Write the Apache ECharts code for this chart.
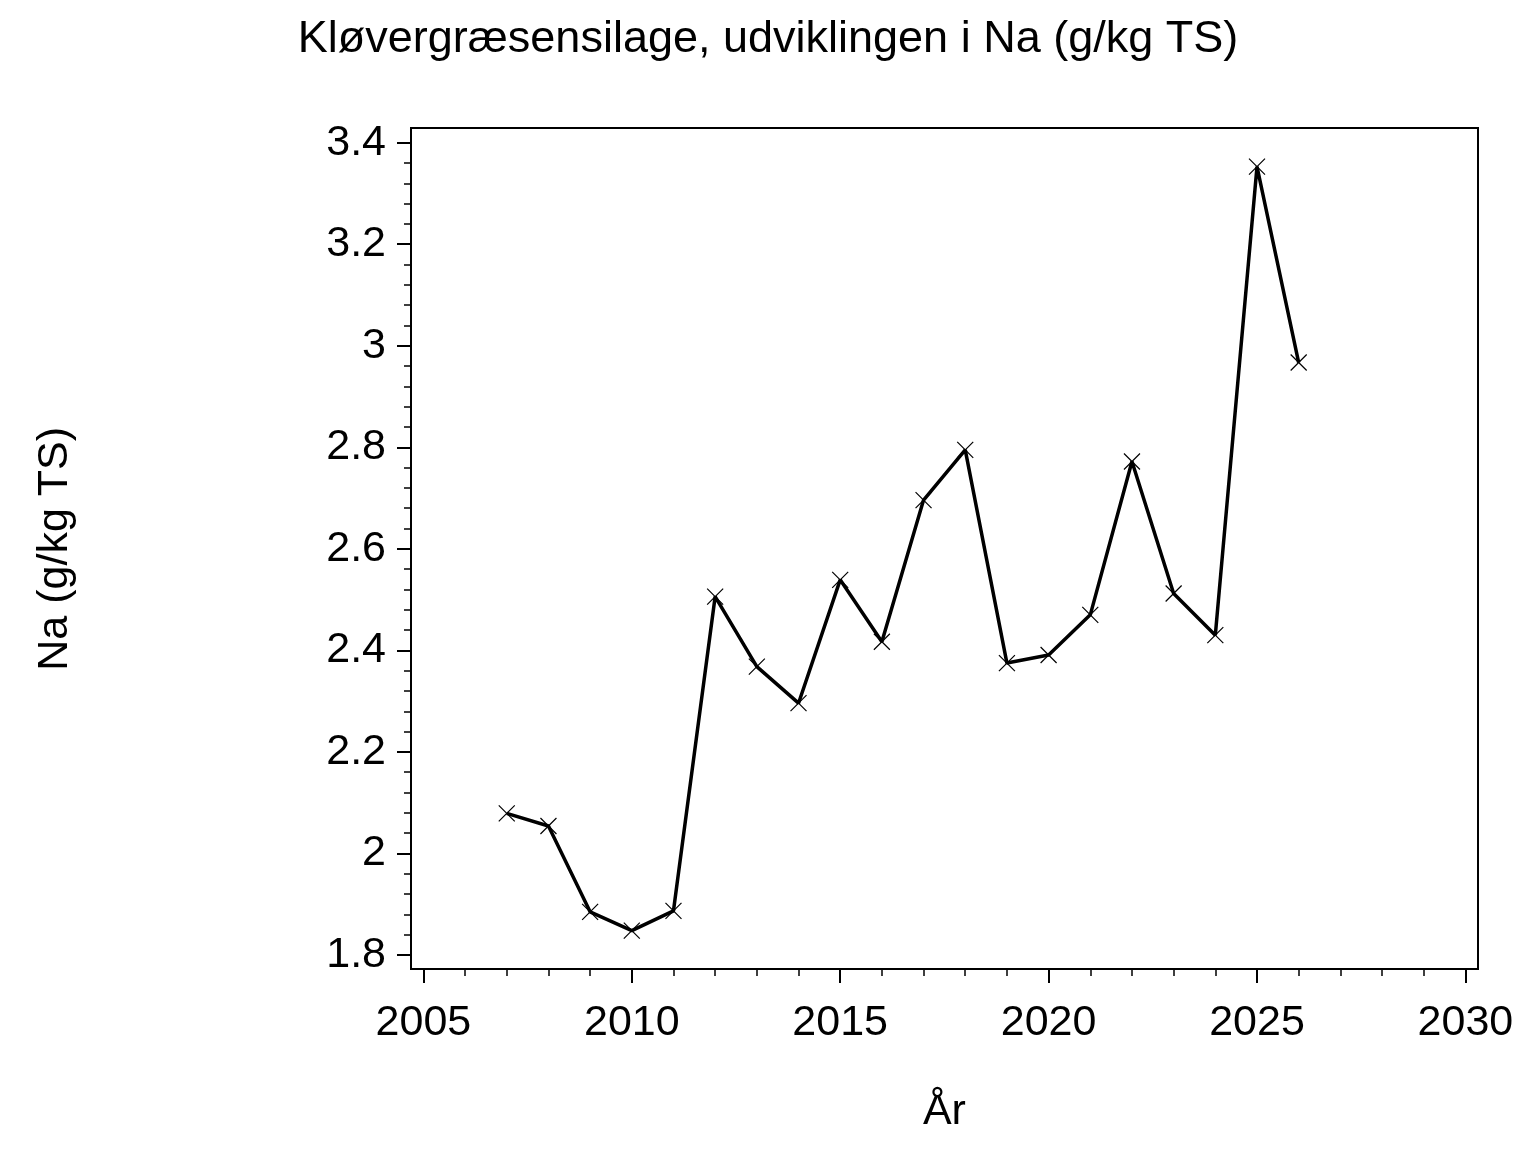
<!DOCTYPE html>
<html>
<head>
<meta charset="utf-8">
<title>Kløvergræsensilage, Na</title>
<script src="https://cdn.jsdelivr.net/npm/echarts@6/dist/echarts.min.js"></script>
<style>
  html, body { margin: 0; padding: 0; background: #fff; }
  #chart { width: 1536px; height: 1152px; }
</style>
</head>
<body>
<div id="chart"></div>
<script>
// aar og Na (g/kg TS), aflaest fra figuren
var years = [2007, 2008, 2009, 2010, 2011, 2012, 2013, 2014, 2015, 2016,
             2017, 2018, 2019, 2020, 2021, 2022, 2023, 2024, 2025, 2026];
var naValues = [2.079, 2.054, 1.885, 1.848, 1.887, 2.506, 2.368, 2.296, 2.539, 2.417,
                2.696, 2.795, 2.375, 2.391, 2.470, 2.772, 2.512, 2.430, 3.353, 2.967];
var xTicks = [2005, 2030, 5];   // min, max, interval
var yTicks = [1.8, 3.4, 0.2];

var font = '"Liberation Sans", Arial, sans-serif';
var chart = echarts.init(document.getElementById('chart'));

var points = years.map(function (y, i) { return [y, naValues[i]]; });

chart.setOption({
    backgroundColor: '#fff',
    animation: false,
    title: {
        text: 'Kløvergræsensilage, udviklingen i Na (g/kg TS)',
        left: 'center',
        top: 12,
        textStyle: { fontFamily: font, fontSize: 45, fontWeight: 'normal', color: '#000' }
    },
    grid: [
        // tick range
        { left: 423.4, right: 70.6, top: 142.7, bottom: 197 },
        // frame
        { left: 411, right: 58, top: 128, bottom: 183, show: true, borderColor: '#000', borderWidth: 2, backgroundColor: 'transparent' }
    ],
    xAxis: [{
        type: 'value',
        gridIndex: 0,
        min: xTicks[0], max: xTicks[1], interval: xTicks[2],
        offset: 14,
        axisLine: { show: false },
        axisTick: { show: true, length: 14, lineStyle: { color: '#000', width: 2 } },
        minorTick: { show: true, splitNumber: 5, length: 7, lineStyle: { color: '#000', width: 1.5 } },
        splitLine: { show: false },
        axisLabel: {
            fontFamily: font, fontSize: 43, color: '#000', margin: 33,
            formatter: function (v) { return String(v); }
        },
        name: 'År',
        nameLocation: 'middle',
        nameGap: 122,
        nameTextStyle: { fontFamily: font, fontSize: 43, color: '#000' }
    }, {
        type: 'value', gridIndex: 1, show: false
    }],
    yAxis: [{
        type: 'value',
        gridIndex: 0,
        min: yTicks[0], max: yTicks[1], interval: yTicks[2],
        offset: 12.4,
        axisLine: { show: false },
        axisTick: { show: true, length: 14, lineStyle: { color: '#000', width: 2 } },
        minorTick: { show: true, splitNumber: 5, length: 7, lineStyle: { color: '#000', width: 1.5 } },
        splitLine: { show: false },
        axisLabel: { fontFamily: font, fontSize: 43, color: '#000', margin: 25 },
        name: 'Na (g/kg TS)',
        nameLocation: 'middle',
        nameGap: 334,
        nameTextStyle: { fontFamily: font, fontSize: 43, color: '#000' }
    }, {
        type: 'value', gridIndex: 1, show: false
    }],
    series: [{
        type: 'line',
        xAxisIndex: 0,
        yAxisIndex: 0,
        data: points,
        symbol: 'path://M0,0L16,16M16,0L0,16',
        symbolSize: 16,
        showAllSymbol: true,
        lineStyle: { color: '#000', width: 3.5 },
        itemStyle: { color: 'transparent', borderColor: '#000', borderWidth: 1.2 },
        emphasis: { disabled: true }
    }]
});
</script>
</body>
</html>
